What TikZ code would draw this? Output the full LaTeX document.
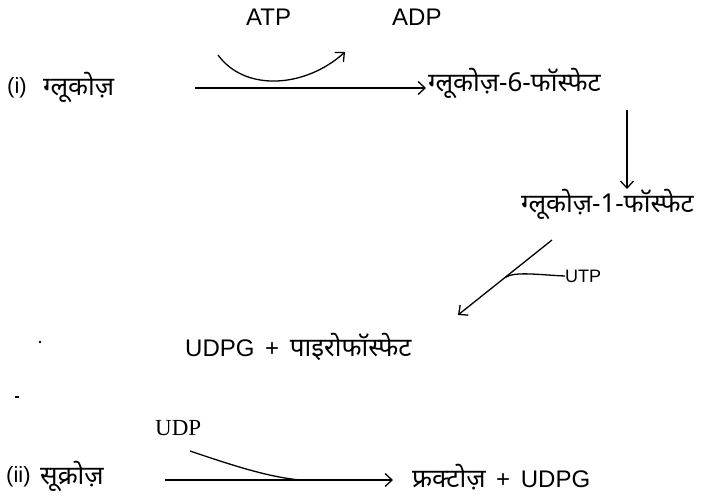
\documentclass[tikz,border=0pt]{standalone}
\usepackage{fontspec}
\setmainfont{Liberation Sans}
\newfontfamily\devfont[Script=Devanagari]{Noto Sans}
\newfontfamily\seriffont{Liberation Serif}
\usetikzlibrary{arrows.meta}
\newcommand{\dvsize}{\devfont\fontsize{26}{26}\selectfont}
\begin{document}
\begin{tikzpicture}[x=1pt,y=-1pt,
  lbl/.style={inner sep=0pt, anchor=west, font=\fontsize{24}{24}\selectfont},
  num/.style={inner sep=0pt, anchor=west, font=\fontsize{22}{22}\selectfont},
  small/.style={inner sep=0pt, anchor=west, font=\fontsize{18}{18}\selectfont},
  serlbl/.style={inner sep=0pt, anchor=west, font=\seriffont\fontsize{23}{23}\selectfont},
  dv/.style={inner sep=0pt, anchor=west, font=\dvsize},
  conn/.style={line width=1.3pt},
  arr/.style={conn, -{Straight Barb[length=7pt,width=13pt,line width=1.3pt]}}]
\useasboundingbox (0,0) rectangle (705,498);
% reaction (i)
\node[lbl] (atp) at (246,17) {ATP};
\node[lbl] (adp) at (392,17) {ADP};
\node[num] (i) at (7,88) {(i)};
\node[dv] (glc) at (43,87) {ग्लूकोज़};
\node[dv] (g6p) at (428,83) {ग्लूकोज़-6-फॉस्फेट};
\node[dv] (g1p) at (521,204) {ग्लूकोज़-1-फॉस्फेट};
\node[small] (utp) at (565,276) {UTP};
\node[lbl] (udpg) at (185,347) {UDPG \,+\, {\dvsize पाइरोफॉस्फेट}};
\coordinate (a1) at (195,88);
\coordinate (a2) at (426,88);
\draw[arr] (a1) -- (a2);
\coordinate (c1) at (218,55);
\coordinate (c2) at (345,52);
\draw[arr] (c1) .. controls (245,92) and (305,88) .. (c2);
\coordinate (v1) at (627,110);
\coordinate (v2) at (627,189);
\draw[arr] (v1) -- (v2);
\coordinate (d1) at (552,240);
\coordinate (d2) at (458,315);
\draw[arr] (d1) -- (d2);
\coordinate (dm) at (505,277.5);
\draw[conn] (dm) .. controls (515,271) and (540,275) .. (utp.west);
% stray marks
\fill (40,342) circle (1.4);
\fill (15,396) rectangle (19,398);
% reaction (ii)
\node[serlbl] (udp) at (155,428) {UDP};
\node[num] (ii) at (6,477) {(ii)};
\node[dv] (suc) at (40,476) {सूक्रोज़};
\node[lbl] (fru) at (412,477) {{\dvsize फ्रक्टोज़} \,+\, UDPG};
\coordinate (b1) at (165,480);
\coordinate (b2) at (393,480);
\draw[arr] (b1) -- (b2);
\coordinate (u1) at (190,451);
\coordinate (u2) at (300,480);
\draw[conn] (u1) .. controls (240,468) and (270,477) .. (u2);
\end{tikzpicture}
\end{document}
